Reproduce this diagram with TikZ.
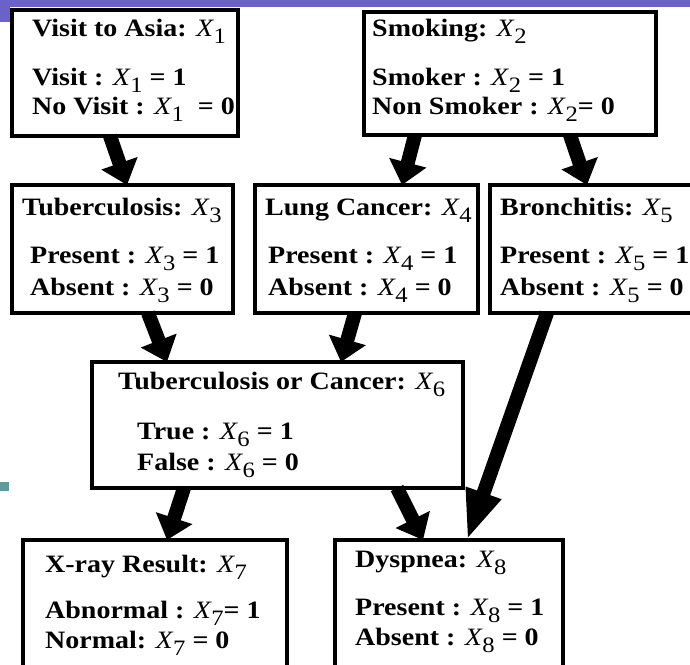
\documentclass[tikz,border=0pt]{standalone}
\usepackage{fontspec}
\setmainfont{Liberation Serif}[FakeStretch=1.12]
\usetikzlibrary{arrows.meta,calc}
\definecolor{barblue}{RGB}{106,98,201}
\definecolor{tealsq}{RGB}{95,155,155}
\newcommand{\xv}[1]{{\mdseries\itshape X}\kern0.5pt\raisebox{-7pt}{\fontsize{22}{22}\selectfont\mdseries #1}}
\begin{document}
\begin{tikzpicture}[x=1pt,y=-1pt,
  box/.style={draw, line width=4pt, inner sep=0pt, outer sep=0pt, anchor=north west},
  lbl/.style={anchor=base west, inner sep=0pt, font=\fontsize{25}{30}\selectfont\bfseries},
  arr/.style={line width=14pt, -{Triangle[length=23pt,width=37pt]}}]
\useasboundingbox (0,0) rectangle (690,664);
\fill[white] (0,0) rectangle (690,664);
\fill[barblue] (0,0) rectangle (690,7);
\fill[barblue] (0,0) rectangle (10,22);
\fill[tealsq] (0,482) rectangle (9,491);
% boxes
\node[box, minimum width=226pt, minimum height=126pt] (x1) at (12,10) {};
\node[box, minimum width=292pt, minimum height=123pt] (x2) at (364,12) {};
\node[box, minimum width=221pt, minimum height=128pt] (x3) at (12,185) {};
\node[box, minimum width=223pt, minimum height=128pt] (x4) at (255,185) {};
\node[box, minimum width=220pt, minimum height=128pt] (x5) at (490,185) {};
\node[box, minimum width=371pt, minimum height=126pt] (x6) at (92,362) {};
\node[box, minimum width=264pt, minimum height=160pt] (x7) at (23,540) {};
\node[box, minimum width=228pt, minimum height=160pt] (x8) at (335,540) {};
% texts
\node[lbl] (t1a) at (32,36) {Visit to Asia: \xv{1}};
\node[lbl] (t1b) at (32,85) {Visit : \xv{1} = 1};
\node[lbl] (t1c) at (32,114) {No Visit : \xv{1} \ = 0};
\node[lbl] (t2a) at (372,36) {Smoking: \xv{2}};
\node[lbl] (t2b) at (372,85) {Smoker : \xv{2} = 1};
\node[lbl] (t2c) at (372,114) {Non Smoker : \xv{2}= 0};
\node[lbl] (t3a) at (22,215) {Tuberculosis: \xv{3}};
\node[lbl] (t3b) at (30,263) {Present : \xv{3} = 1};
\node[lbl] (t3c) at (30,295) {Absent : \xv{3} = 0};
\node[lbl] (t4a) at (265,215) {Lung Cancer: \xv{4}};
\node[lbl] (t4b) at (268,263) {Present : \xv{4} = 1};
\node[lbl] (t4c) at (268,295) {Absent : \xv{4} = 0};
\node[lbl] (t5a) at (500,215) {Bronchitis: \xv{5}};
\node[lbl] (t5b) at (500,263) {Present : \xv{5} = 1};
\node[lbl] (t5c) at (500,295) {Absent : \xv{5} = 0};
\node[lbl] (t6a) at (118,389) {Tuberculosis or Cancer: \xv{6}};
\node[lbl] (t6b) at (137,439) {True : \xv{6} = 1};
\node[lbl] (t6c) at (137,470) {False : \xv{6} = 0};
\node[lbl] (t7a) at (45,572) {X-ray Result: \xv{7}};
\node[lbl] (t7b) at (45,618) {Abnormal : \xv{7}= 1};
\node[lbl] (t7c) at (45,648) {Normal: \xv{7} = 0};
\node[lbl] (t8a) at (355,567) {Dyspnea: \xv{8}};
\node[lbl] (t8b) at (355,615) {Present : \xv{8} = 1};
\node[lbl] (t8c) at (355,645) {Absent : \xv{8} = 0};
% arrows
\draw[arr] ($(x1.south west)+(98,0)$) -- ($(x3.north west)+(115,0)$);
\draw[arr] ($(x2.south west)+(51,0)$) -- ($(x4.north west)+(147,0)$);
\draw[arr] ($(x2.south west)+(206,0)$) -- ($(x5.north west)+(97,0)$);
\draw[arr] ($(x3.south west)+(136,0)$) -- ($(x6.north west)+(75,0)$);
\draw[arr] ($(x4.south west)+(100,0)$) -- ($(x6.north west)+(249,0)$);
\draw[arr, -{Triangle[length=50pt,width=34pt]}] ($(x5.south west)+(57,0)$) -- ($(x8.north west)+(132,0)$);
\draw[arr] ($(x6.south west)+(92,0)$) -- ($(x7.north west)+(144,0)$);
\draw[arr] ($(x6.south west)+(305,0)$) -- ($(x8.north west)+(88,0)$);
\end{tikzpicture}
\end{document}
